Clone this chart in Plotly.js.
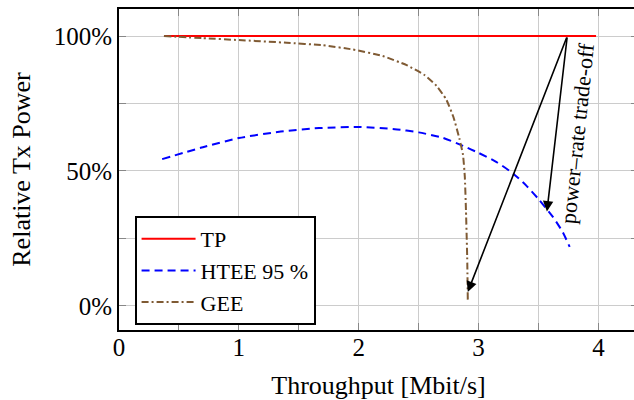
<!DOCTYPE html>
<html>
<head>
<meta charset="utf-8">
<script src="https://cdn.plot.ly/plotly-3.0.1.min.js"></script>
<style>
html, body { margin: 0; padding: 0; overflow: hidden; background: #fff; }
#chart { width: 640px; height: 400px; }
</style>
</head>
<body>
<div id="chart"></div>
<script>
// ---- data ----
const tpX = [0.375, 3.98];
const tpY = [100, 100];

const hteeX = [0.36, 0.7, 1.0, 1.35, 1.67, 2.0, 2.3, 2.5, 2.7, 2.87, 3.0, 3.15, 3.29, 3.4, 3.5, 3.62, 3.7, 3.76];
const hteeY = [54.4, 58.8, 62.2, 64.6, 65.9, 66.3, 65.5, 64.3, 62.3, 59.3, 56.7, 53.3, 49, 44.5, 39.6, 33, 27.5, 21.9];

const geeX = [0.375, 0.7, 1.0, 1.4, 1.7, 1.95, 2.2, 2.4, 2.55, 2.65, 2.73, 2.79, 2.84, 2.87, 2.885, 2.895, 2.905, 2.91];
const geeY = [100, 99.2, 98.5, 97.5, 96.6, 95, 92.6, 89.2, 85.5, 81.5, 76.5, 70, 62, 56, 48, 35, 18, 2];

const xTickVals = [0, 0.5, 1, 1.5, 2, 2.5, 3, 3.5, 4];
const xTickText = ['0', '', '1', '', '2', '', '3', '', '4'];
const yTickVals = [0, 25, 50, 75, 100];
const yTickText = ['0%', '', '50%', '', '100%'];

const seriesNames = ['TP', 'HTEE 95 %', 'GEE'];

// arrows: tail at the TP end point, heads on GEE and HTEE
const arrowTail = {x: 3.74, y: 100};
const arrowHeads = [{x: 2.91, y: 5.2}, {x: 3.57, y: 35}];
const tradeText = 'power–rate trade-off';
const tradePos = {x: 3.82, y: 64};

const serif = 'Liberation Serif';

const traces = [
  {x: tpX, y: tpY, name: seriesNames[0], mode: 'lines',
   line: {color: '#ff0000', width: 2}},
  {x: hteeX, y: hteeY, name: seriesNames[1], mode: 'lines', line: {shape: 'spline', smoothing: 0.6,
   color: '#0000ff', width: 2, dash: '8px,5px'}},
  {x: geeX, y: geeY, name: seriesNames[2], mode: 'lines', line: {shape: 'spline', smoothing: 0.4,
   color: '#7f5a33', width: 2, dash: '7px,3px,2px,3px'}}
];

const annotations = arrowHeads.map(h => ({
  x: h.x, y: h.y, ax: arrowTail.x, ay: arrowTail.y,
  xref: 'x', yref: 'y', axref: 'x', ayref: 'y',
  text: '', showarrow: true, arrowhead: 2, arrowsize: 1.3, arrowwidth: 1.6, arrowcolor: '#000'
}));
annotations.push({
  x: tradePos.x, y: tradePos.y, xref: 'x', yref: 'y', text: tradeText,
  showarrow: false, textangle: -84, font: {family: serif, size: 22, color: '#000'}
});

const axisCommon = {
  showgrid: true, gridcolor: '#cccccc', gridwidth: 1,
  ticks: 'inside', ticklen: 7, tickwidth: 1, tickcolor: '#888',
  showline: true, linecolor: '#000', linewidth: 2, mirror: 'allticks',
  zeroline: false, tickmode: 'array',
  tickfont: {family: serif, size: 25, color: '#000'}
};

const layout = {
  width: 640, height: 400,
  margin: {l: 119, r: 2, t: 9, b: 70},
  paper_bgcolor: '#fff', plot_bgcolor: '#fff',
  font: {family: serif, color: '#000'},
  xaxis: Object.assign({}, axisCommon, {
    range: [0, 4.33], tickvals: xTickVals, ticktext: xTickText, ticklabelstandoff: -6,
    title: {text: 'Throughput [Mbit/s]', font: {family: serif, size: 26}, standoff: 16}
  }),
  yaxis: Object.assign({}, axisCommon, {
    range: [-8.9, 110], tickvals: yTickVals, ticktext: yTickText,
    title: {text: 'Relative Tx Power', font: {family: serif, size: 26}, standoff: 16}
  }),
  showlegend: true,
  legend: {
    x: 0.03, y: 0.355, xanchor: 'left', yanchor: 'top',
    bgcolor: '#fff', bordercolor: '#000', borderwidth: 2,
    font: {family: serif, size: 22, color: '#000'},
    itemwidth: 54, tracegroupgap: 0
  },
  annotations: annotations
};

Plotly.newPlot('chart', traces, layout, {displayModeBar: false, staticPlot: true});
</script>
</body>
</html>
